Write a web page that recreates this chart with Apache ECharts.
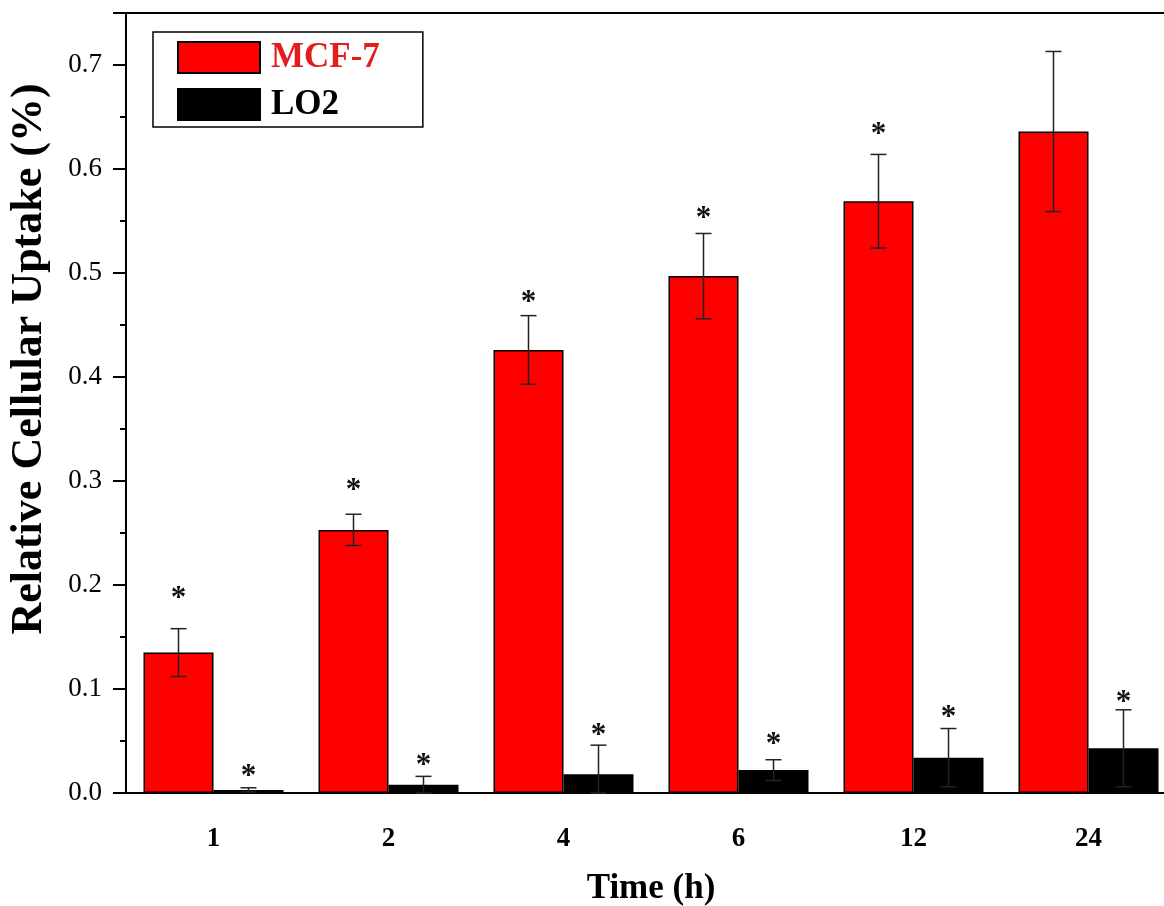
<!DOCTYPE html>
<html>
<head>
<meta charset="utf-8">
<script src="https://cdn.jsdelivr.net/npm/echarts@6/dist/echarts.min.js"></script>
<style>
  html, body { margin: 0; padding: 0; background: #fff; overflow: hidden; }
  /* 图在右侧被裁掉一截，所以容器比窗口略宽 */
  #main { width: 1176px; height: 906px; }
</style>
</head>
<body>
<div id="main"></div>
<script>
// 数据
var times = ['1', '2', '4', '6', '12', '24'];
var mcf7 = [0.135, 0.253, 0.426, 0.497, 0.569, 0.636];
var mcf7Err = [0.023, 0.015, 0.033, 0.041, 0.045, 0.077];
var lo2 = [0.003, 0.008, 0.018, 0.022, 0.034, 0.043];
var lo2Err = [0.002, 0.008, 0.028, 0.010, 0.028, 0.037];
// 显著性星号的高度
var mcf7Star = [0.1925, 0.2965, 0.4765, 0.558, 0.638, null];
var lo2Star = [0.021, 0.032, 0.0606, 0.052, 0.078, 0.0924];

var serif = 'Liberation Serif';
var chart = echarts.init(document.getElementById('main'));

function errData(vals, errs) {
  return vals.map(function (v, i) { return [i, v - errs[i], v + errs[i]]; });
}
function starData(stars) {
  var out = [];
  stars.forEach(function (s, i) { if (s != null) out.push([i, s]); });
  return out;
}

// 误差线
function errRender(side) {
  return function (params, api) {
    var i = api.value(0);
    var lo = api.coord([i, Math.max(0, api.value(1))]);
    var hi = api.coord([i, api.value(2)]);
    var band = api.size([1, 0])[0];
    var x = lo[0] + side * band * 0.2;
    var cap = 8;
    var st = { stroke: '#222', lineWidth: 1.5 };
    return {
      type: 'group',
      children: [
        { type: 'line', shape: { x1: x, y1: lo[1], x2: x, y2: hi[1] }, style: st },
        { type: 'line', shape: { x1: x - cap, y1: hi[1], x2: x + cap, y2: hi[1] }, style: st },
        { type: 'line', shape: { x1: x - cap, y1: lo[1], x2: x + cap, y2: lo[1] }, style: st }
      ]
    };
  };
}

// 星号
function starRender(side) {
  return function (params, api) {
    var p = api.coord([api.value(0), api.value(1)]);
    var band = api.size([1, 0])[0];
    return {
      type: 'text',
      x: p[0] + side * band * 0.2,
      y: p[1] + 6,
      style: {
        text: '*', fill: '#111', font: 'bold 31px "' + serif + '"',
        align: 'center', verticalAlign: 'middle'
      }
    };
  };
}

var option = {
  animation: false,
  backgroundColor: '#fff',
  grid: {
    left: 126, top: 13, right: 0, height: 780,
    outerBoundsMode: 'none',
    show: true, borderColor: '#000', borderWidth: 2, backgroundColor: 'transparent'
  },
  legend: {
    orient: 'vertical',
    left: 153, top: 32,
    padding: [8, 43, 5, 24],
    itemGap: 12,
    itemWidth: 82, itemHeight: 31,
    borderColor: '#000', borderWidth: 1.5,
    icon: 'rect',
    textStyle: { fontFamily: serif, fontWeight: 'bold', fontSize: 35, padding: [0, 0, 0, 6] },
    data: [
      { name: 'MCF-7', textStyle: { color: '#e51c1c' } },
      { name: 'LO2', textStyle: { color: '#000' } }
    ]
  },
  xAxis: [{
    type: 'category',
    data: times,
    position: 'bottom',
    name: 'Time (h)',
    nameLocation: 'middle',
    nameGap: 78,
    nameTextStyle: { fontFamily: serif, fontWeight: 'bold', fontSize: 35, color: '#000' },
    axisLine: { lineStyle: { color: '#000', width: 2 } },
    axisTick: { alignWithLabel: true, length: 15, lineStyle: { color: '#000', width: 2 } },
    axisLabel: { fontFamily: serif, fontWeight: 'bold', fontSize: 27, color: '#000', margin: 33 }
  }, {
    // 类目边界处的短刻度
    type: 'category',
    data: times,
    position: 'bottom',
    axisLine: { show: false },
    axisTick: { length: 7, lineStyle: { color: '#000', width: 2 } },
    axisLabel: { show: false }
  }],
  yAxis: {
    type: 'value',
    min: 0, max: 0.75, interval: 0.1,
    splitLine: { show: false },
    axisLine: { show: true, lineStyle: { color: '#000', width: 2 } },
    axisTick: { show: true, length: 13, lineStyle: { color: '#000', width: 2 } },
    minorTick: { show: true, splitNumber: 2, length: 6, lineStyle: { color: '#000', width: 2 } },
    axisLabel: {
      fontFamily: serif, fontSize: 27, color: '#000', margin: 24,
      formatter: function (v) { return Math.abs(v - 0.75) < 1e-6 ? '' : v.toFixed(1); }
    }
  },
  graphic: [{
    type: 'text',
    x: 30, y: 359,
    rotation: Math.PI / 2,
    style: {
      text: 'Relative Cellular Uptake (%)',
      font: 'bold 44px "' + serif + '"',
      fill: '#000', align: 'center', verticalAlign: 'middle'
    }
  }],
  series: [{
    name: 'MCF-7', type: 'bar', data: mcf7,
    barWidth: '40%', barGap: '0%',
    itemStyle: { color: '#ff0000', borderColor: '#000', borderWidth: 1.5 }
  }, {
    name: 'LO2', type: 'bar', data: lo2,
    barWidth: '40%', barGap: '0%',
    itemStyle: { color: '#000', borderColor: '#000', borderWidth: 1.5 }
  }, {
    type: 'custom', renderItem: errRender(-1), data: errData(mcf7, mcf7Err), z: 5
  }, {
    type: 'custom', renderItem: errRender(1), data: errData(lo2, lo2Err), z: 5
  }, {
    type: 'custom', renderItem: starRender(-1), data: starData(mcf7Star), z: 6
  }, {
    type: 'custom', renderItem: starRender(1), data: starData(lo2Star), z: 6
  }]
};

chart.setOption(option);
</script>
</body>
</html>
